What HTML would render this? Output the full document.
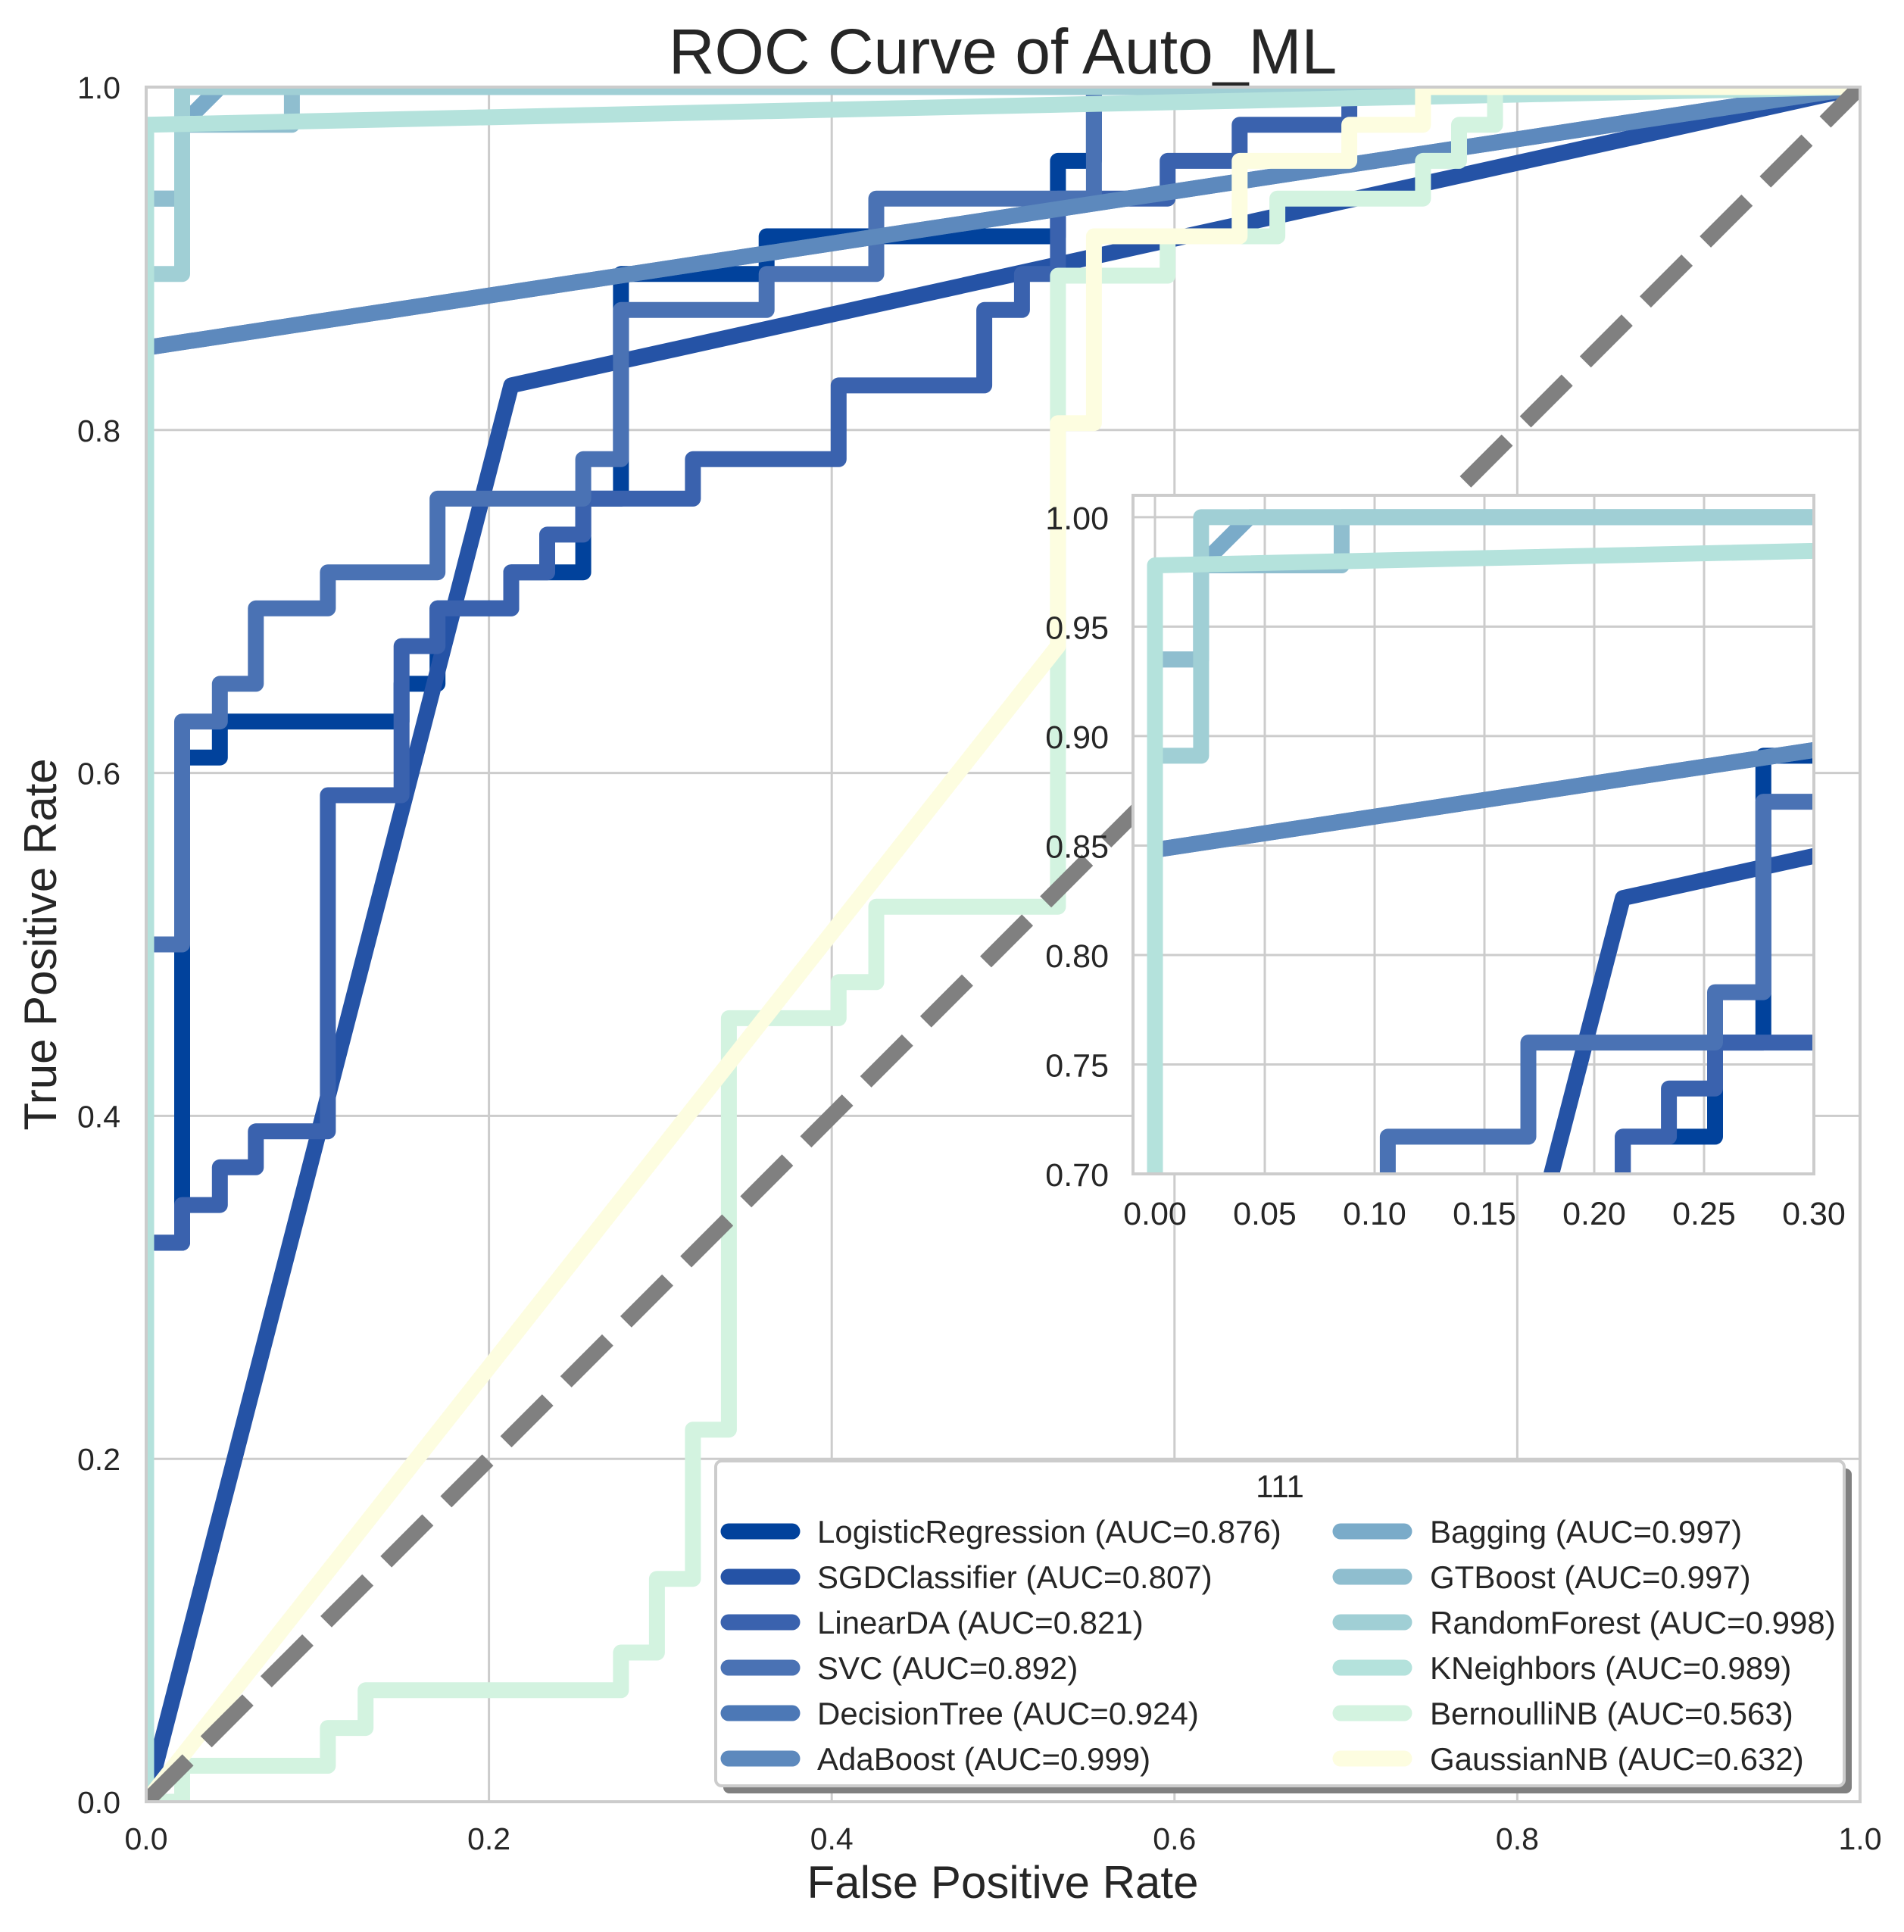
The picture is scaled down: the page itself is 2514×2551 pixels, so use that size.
<!DOCTYPE html>
<html><head><meta charset="utf-8"><style>
html,body{margin:0;padding:0;background:#fff;overflow:hidden;}
svg{display:block;font-family:"Liberation Sans",Arial,sans-serif;}
</style></head><body>
<svg id="chart" width="2514" height="2551" viewBox="0 0 2514 2551" xmlns="http://www.w3.org/2000/svg">
<defs>
<clipPath id="mainClip"><rect x="193" y="115" width="2263" height="2264"/></clipPath>
<clipPath id="insetClip"><rect x="1496" y="654" width="899" height="896"/></clipPath>
</defs>
<rect x="0" y="0" width="2514" height="2551" fill="#fff"/>
<text x="1324" y="97" font-size="84" text-anchor="middle" fill="#262626">ROC Curve of Auto_ML</text>
<text x="1324" y="2506" font-size="60" text-anchor="middle" fill="#262626">False Positive Rate</text>
<text x="0" y="0" font-size="60" text-anchor="middle" fill="#262626" transform="translate(74,1247) rotate(-90)">True Positive Rate</text>
<g id="mainGrid"></g>
<g id="mainTicks"></g>
<g id="mainLines" clip-path="url(#mainClip)"></g>
<rect x="193" y="115" width="2263" height="2264" fill="none" stroke="#cccccc" stroke-width="4"/>
<g id="legend"></g>
<rect x="1496" y="654" width="899" height="896" fill="#fff"/>
<g id="insetGrid"></g>
<g id="insetLines" clip-path="url(#insetClip)"></g>
<rect x="1496" y="654" width="899" height="896" fill="none" stroke="#cccccc" stroke-width="4"/>
<g id="insetTicks"></g>
</svg>
<script>
const seriesNames = ["LogisticRegression","SGDClassifier","LinearDA","SVC","DecisionTree","AdaBoost","Bagging","GTBoost","RandomForest","KNeighbors","BernoulliNB","GaussianNB"];
const seriesAUC = ["0.876","0.807","0.821","0.892","0.924","0.999","0.997","0.997","0.998","0.989","0.563","0.632"];
const seriesColors = ["#01429c","#2553a6","#3a62ae","#4a72b4","#4c78b6","#5d89bd","#7aabc9","#8fbecf","#a0cfd5","#b4e2dc","#d3f3e0","#fdfde0"];
const lrFPR = [0,0,0.021,0.021,0.043,0.043,0.149,0.149,0.17,0.17,0.213,0.213,0.255,0.255,0.277,0.277,0.362,0.362,0.532,0.532,0.553,0.553,1];
const lrTPR = [0,0.326,0.326,0.609,0.609,0.63,0.63,0.652,0.652,0.696,0.696,0.717,0.717,0.76,0.76,0.891,0.891,0.913,0.913,0.957,0.957,1,1];
const sgdFPR = [0,0.213,1];
const sgdTPR = [0,0.826,1];
const ldaFPR = [0,0,0.021,0.021,0.043,0.043,0.064,0.064,0.106,0.106,0.149,0.149,0.17,0.17,0.213,0.213,0.234,0.234,0.255,0.255,0.319,0.319,0.404,0.404,0.489,0.489,0.511,0.511,0.532,0.532,0.596,0.596,0.638,0.638,0.702,0.702,1];
const ldaTPR = [0,0.326,0.326,0.348,0.348,0.37,0.37,0.391,0.391,0.587,0.587,0.674,0.674,0.696,0.696,0.717,0.717,0.739,0.739,0.76,0.76,0.783,0.783,0.826,0.826,0.87,0.87,0.891,0.891,0.935,0.935,0.957,0.957,0.978,0.978,1,1];
const svcFPR = [0,0,0.021,0.021,0.043,0.043,0.064,0.064,0.106,0.106,0.17,0.17,0.255,0.255,0.277,0.277,0.362,0.362,0.426,0.426,0.553,0.553,1];
const svcTPR = [0,0.5,0.5,0.63,0.63,0.652,0.652,0.696,0.696,0.717,0.717,0.76,0.76,0.783,0.783,0.87,0.87,0.891,0.891,0.935,0.935,1,1];
const dtFPR = [0,0,1];
const dtTPR = [0,0.848,1];
const adaFPR = [0,0,1];
const adaTPR = [0,0.848,1];
const bagFPR = [0,0,0.021,0.021,0.043,1];
const bagTPR = [0,0.935,0.935,0.978,1,1];
const gtbFPR = [0,0,0.021,0.021,0.085,0.085,1];
const gtbTPR = [0,0.935,0.935,0.978,0.978,1,1];
const rfFPR = [0,0,0.021,0.021,1];
const rfTPR = [0,0.891,0.891,1,1];
const knnFPR = [0,0,1];
const knnTPR = [0,0.978,1];
const bnbFPR = [0,0.021,0.021,0.106,0.106,0.128,0.128,0.277,0.277,0.298,0.298,0.319,0.319,0.34,0.34,0.404,0.404,0.426,0.426,0.532,0.532,0.596,0.596,0.66,0.66,0.745,0.745,0.766,0.766,0.787,0.787,1];
const bnbTPR = [0,0,0.021,0.021,0.043,0.043,0.065,0.065,0.087,0.087,0.13,0.13,0.217,0.217,0.457,0.457,0.478,0.478,0.522,0.522,0.89,0.89,0.913,0.913,0.935,0.935,0.957,0.957,0.978,0.978,1,1];
const gnbFPR = [0,0.532,0.532,0.553,0.553,0.638,0.638,0.702,0.702,0.745,0.745,1];
const gnbTPR = [0,0.674,0.804,0.804,0.913,0.913,0.957,0.957,0.978,0.978,1,1];
const allFPR = [lrFPR,sgdFPR,ldaFPR,svcFPR,dtFPR,adaFPR,bagFPR,gtbFPR,rfFPR,knnFPR,bnbFPR,gnbFPR];
const allTPR = [lrTPR,sgdTPR,ldaTPR,svcTPR,dtTPR,adaTPR,bagTPR,gtbTPR,rfTPR,knnTPR,bnbTPR,gnbTPR];
const mainTicks = [0,0.2,0.4,0.6,0.8,1.0];
const mainTickLabels = ["0.0","0.2","0.4","0.6","0.8","1.0"];
const insetXTicks = [0,0.05,0.10,0.15,0.20,0.25,0.30];
const insetXLabels = ["0.00","0.05","0.10","0.15","0.20","0.25","0.30"];
const insetYTicks = [0.70,0.75,0.80,0.85,0.90,0.95,1.00];
const insetYLabels = ["0.70","0.75","0.80","0.85","0.90","0.95","1.00"];

const NS = "http://www.w3.org/2000/svg";
const X = v => 193 + v * 2263;
const Y = v => 2379 - v * 2264;
const IX = v => 1496 + (v + 0.01) / 0.31 * 899;
const IY = v => 1550 - (v - 0.70) / 0.31 * 896;
function mk(tag, parent) { const e = document.createElementNS(NS, tag); parent.appendChild(e); return e; }

const mg = document.getElementById('mainGrid');
const mt = document.getElementById('mainTicks');
mainTicks.forEach((t, i) => {
  const gx = mk('line', mg);
  gx.setAttribute('x1', X(t)); gx.setAttribute('x2', X(t)); gx.setAttribute('y1', 115); gx.setAttribute('y2', 2379);
  gx.setAttribute('stroke', '#cccccc'); gx.setAttribute('stroke-width', 3);
  
  
  const gy = mk('line', mg);
  gy.setAttribute('x1', 193); gy.setAttribute('x2', 2456); gy.setAttribute('y1', Y(t)); gy.setAttribute('y2', Y(t));
  gy.setAttribute('stroke', '#cccccc'); gy.setAttribute('stroke-width', 3);
  
  
  const tx = mk('text', mt);
  tx.setAttribute('x', X(t)); tx.setAttribute('y', 2442); tx.setAttribute('font-size', 41);
  tx.setAttribute('text-anchor', 'middle'); tx.setAttribute('fill', '#262626');
  tx.textContent = mainTickLabels[i];
  
  
  const ty = mk('text', mt);
  ty.setAttribute('x', 159); ty.setAttribute('y', Y(t) + 15); ty.setAttribute('font-size', 41);
  ty.setAttribute('text-anchor', 'end'); ty.setAttribute('fill', '#262626');
  ty.textContent = mainTickLabels[i];
  
  
});

function drawSeries(group, sx, sy, prefix) {
  allFPR.forEach((xs, k) => {
    const ys = allTPR[k];
    const p = mk('polyline', group);
    p.setAttribute('points', xs.map((x, j) => sx(x).toFixed(1) + ',' + sy(ys[j]).toFixed(1)).join(' '));
    p.setAttribute('fill', 'none'); p.setAttribute('stroke', seriesColors[k]); p.setAttribute('stroke-width', 21);
    p.setAttribute('stroke-linejoin', 'round'); p.setAttribute('stroke-linecap', 'butt');
    
    
  });
  const d = mk('line', group);
  d.setAttribute('x1', sx(0)); d.setAttribute('y1', sy(0)); d.setAttribute('x2', sx(1)); d.setAttribute('y2', sy(1));
  d.setAttribute('stroke', '#808080'); d.setAttribute('stroke-width', 21); d.setAttribute('stroke-dasharray', '78 34');
  
  
}
drawSeries(document.getElementById('mainLines'), X, Y, 'main');

// legend
const lg = document.getElementById('legend');
const sh = mk('rect', lg);
sh.setAttribute('x', 955); sh.setAttribute('y', 1939); sh.setAttribute('width', 1490);
sh.setAttribute('height', 429); sh.setAttribute('rx', 8); sh.setAttribute('fill', '#808080');


const box = mk('rect', lg);
box.setAttribute('x', 945); box.setAttribute('y', 1929); box.setAttribute('width', 1490); box.setAttribute('height', 429);
box.setAttribute('rx', 8); box.setAttribute('fill', '#fff'); box.setAttribute('stroke', '#cccccc'); box.setAttribute('stroke-width', 4);


const lt = mk('text', lg);
lt.setAttribute('x', 1690); lt.setAttribute('y', 1977); lt.setAttribute('font-size', 42);
lt.setAttribute('text-anchor', 'middle'); lt.setAttribute('fill', '#262626'); lt.textContent = '111';


seriesNames.forEach((n, k) => {
  const col = k < 6 ? 0 : 1, row = k % 6;
  const hx = col ? 1760 : 952, tx = col ? 1888 : 1079, yy = 2022 + row * 60;
  const h = mk('line', lg);
  h.setAttribute('x1', hx + 10); h.setAttribute('x2', hx + 94); h.setAttribute('y1', yy); h.setAttribute('y2', yy);
  h.setAttribute('stroke', seriesColors[k]); h.setAttribute('stroke-width', 21); h.setAttribute('stroke-linecap', 'round');
  
  
  const t = mk('text', lg);
  t.setAttribute('x', tx); t.setAttribute('y', yy + 15); t.setAttribute('font-size', 42); t.setAttribute('fill', '#262626');
  t.textContent = n + ' (AUC=' + seriesAUC[k] + ')';
  
  
});

// inset
const ig = document.getElementById('insetGrid');
const it = document.getElementById('insetTicks');
insetXTicks.forEach((t, i) => {
  const l = mk('line', ig);
  l.setAttribute('x1', IX(t)); l.setAttribute('x2', IX(t)); l.setAttribute('y1', 654); l.setAttribute('y2', 1550);
  l.setAttribute('stroke', '#cccccc'); l.setAttribute('stroke-width', 3);
  
  
  const tx = mk('text', it);
  tx.setAttribute('x', IX(t)); tx.setAttribute('y', 1617); tx.setAttribute('font-size', 43);
  tx.setAttribute('text-anchor', 'middle'); tx.setAttribute('fill', '#262626'); tx.textContent = insetXLabels[i];
  
  
});
insetYTicks.forEach((t, i) => {
  const l = mk('line', ig);
  l.setAttribute('x1', 1496); l.setAttribute('x2', 2395); l.setAttribute('y1', IY(t)); l.setAttribute('y2', IY(t));
  l.setAttribute('stroke', '#cccccc'); l.setAttribute('stroke-width', 3);
  
  
  const ty = mk('text', it);
  ty.setAttribute('x', 1464); ty.setAttribute('y', IY(t) + 16); ty.setAttribute('font-size', 43);
  ty.setAttribute('text-anchor', 'end'); ty.setAttribute('fill', '#262626'); ty.textContent = insetYLabels[i];
  
  
});
drawSeries(document.getElementById('insetLines'), IX, IY, 'inset');
</script>
</body></html>
